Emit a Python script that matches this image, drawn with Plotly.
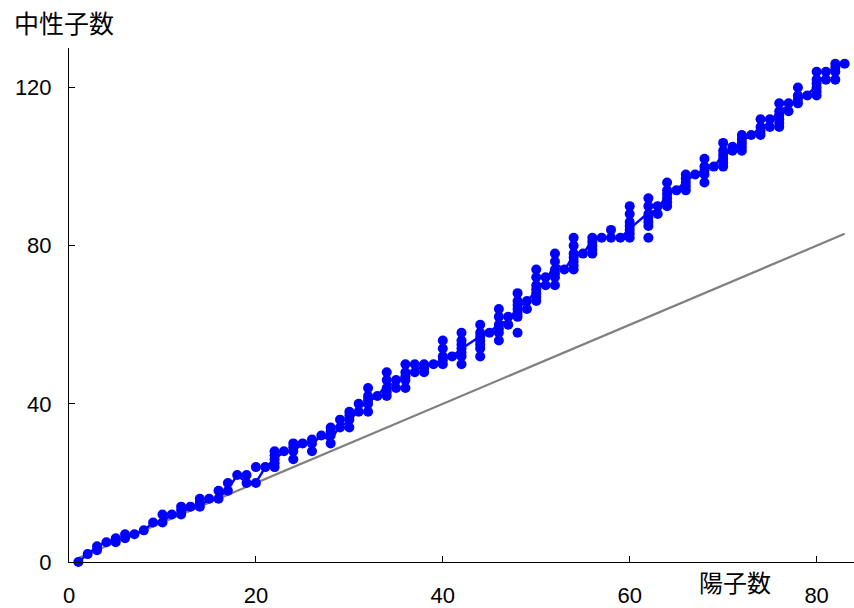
import plotly.graph_objects as go

# Naturally abundant stable isotopes (abundance roughly >= 1%): proton number Z and neutron number N
protons = [1, 2, 3,3, 4, 5,5, 6,6, 7, 8, 9, 10,10, 11, 12,12,12, 13, 14,14,14, 15,
           16,16, 17,17, 18, 19,19, 20,20, 21, 22,22,22,22,22, 23,
           24,24,24,24, 25, 26,26,26, 27, 28,28,28,28, 29,29, 30,30,30,30, 31,31,
           32,32,32,32,32, 33, 34,34,34,34,34, 35,35, 36,36,36,36,36, 37,37, 38,38,38, 39,
           40,40,40,40,40, 41, 42,42,42,42,42,42,42, 44,44,44,44,44,44,44, 45, 46,46,46,46,46,46, 47,47,
           48,48,48,48,48,48,48, 49,49, 50,50,50,50,50,50,50, 51,51,
           52,52,52,52,52,52, 53, 54,54,54,54,54,54,54, 55, 56,56,56,56,56, 57,
           58,58, 59, 60,60,60,60,60,60,60, 62,62,62,62,62,62,62, 63,63, 64,64,64,64,64,64, 65,
           66,66,66,66,66, 67, 68,68,68,68,68, 69, 70,70,70,70,70,70, 71,71,
           72,72,72,72,72, 73, 74,74,74,74, 75,75, 76,76,76,76,76,76, 77,77,
           78,78,78,78, 79, 80,80,80,80,80,80, 81,81, 82,82,82,82, 83]
neutrons = [0, 2, 3,4, 5, 5,6, 6,7, 7, 8, 10, 10,12, 12, 12,13,14, 14, 14,15,16, 16,
            16,18, 18,20, 22, 20,22, 20,24, 24, 24,25,26,27,28, 28,
            26,28,29,30, 30, 28,30,31, 32, 30,32,33,34, 34,36, 34,36,37,38, 38,40,
            38,40,41,42,44, 42, 42,43,44,46,48, 44,46, 44,46,47,48,50, 48,50, 48,49,50, 50,
            50,51,52,54,56, 52, 50,52,53,54,55,56,58, 52,54,55,56,57,58,60, 58, 56,58,59,60,62,64, 60,62,
            58,62,63,64,65,66,68, 64,66, 66,67,68,69,70,72,74, 70,72,
            70,72,73,74,76,78, 74, 74,75,76,77,78,80,82, 78, 78,79,80,81,82, 82,
            82,84, 82, 82,83,84,85,86,88,90, 82,85,86,87,88,90,92, 88,90, 90,91,92,93,94,96, 94,
            94,95,96,97,98, 98, 96,98,99,100,102, 100, 100,101,102,103,104,106, 104,105,
            104,105,106,107,108, 108, 108,109,110,112, 110,112, 110,111,112,113,114,116, 114,116,
            116,117,118,120, 118, 118,119,120,121,122,124, 122,124, 122,124,125,126, 126]

# Mean neutron number per element (atomic weight minus Z)
line_z = [1,2,3,4,5,6,7,8,9,10,11,12,13,14,15,16,17,18,19,20,21,22,23,24,25,26,27,28,29,30,
          31,32,33,34,35,36,37,38,39,40,41,42,44,45,46,47,48,49,50,51,52,53,54,55,56,57,58,59,60,
          62,63,64,65,66,67,68,69,70,71,72,73,74,75,76,77,78,79,80,81,82,83]
line_n = [0.01,2.0,3.94,5.01,5.81,6.01,7.01,8.0,10.0,10.18,11.99,12.31,13.98,14.09,15.97,16.06,18.45,
          21.95,20.1,20.08,23.96,25.87,27.94,28.0,29.94,29.85,31.93,30.69,34.55,35.38,38.72,40.63,
          41.92,44.97,44.9,47.8,48.47,49.62,49.91,51.22,51.91,53.95,57.07,57.91,60.42,60.87,64.41,
          65.82,68.71,70.76,75.6,73.9,77.29,77.91,81.33,81.91,82.12,81.91,84.24,88.36,88.96,93.25,
          93.93,96.5,97.93,99.26,99.93,103.05,103.97,106.49,107.95,109.84,111.21,114.23,115.22,
          117.08,117.97,120.59,123.38,125.2,125.98]

# Reference line N = Z
ref_z = [1, 83]
ref_n = [1, 83]

x_ticks = [0, 20, 40, 60, 80]
y_ticks = [0, 40, 80, 120]

fig = go.Figure()
fig.add_trace(go.Scatter(x=ref_z, y=ref_n, mode="lines",
                         line=dict(color="#808080", width=2.2), cliponaxis=False, hoverinfo="skip"))
fig.add_trace(go.Scatter(x=line_z, y=line_n, mode="lines",
                         line=dict(color="#0000ff", width=2.4), cliponaxis=False))
fig.add_trace(go.Scatter(x=protons, y=neutrons, mode="markers",
                         marker=dict(color="#0000ff", size=10), cliponaxis=False))

font_family = "Liberation Sans, Arial, Noto Sans CJK JP, sans-serif"
fig.update_layout(
    width=854, height=608,
    margin=dict(l=69, r=0, t=48, b=44),
    paper_bgcolor="white", plot_bgcolor="white",
    showlegend=False,
    font=dict(family=font_family, size=22, color="black"),
    xaxis=dict(range=[0, 84], tickvals=x_ticks, ticktext=[str(v) for v in x_ticks],
               showgrid=False, zeroline=False, showline=True, linecolor="black", linewidth=1,
               ticks="inside", ticklen=6, tickcolor="black", ticklabelstandoff=14),
    yaxis=dict(range=[0, 130], tickvals=y_ticks, ticktext=[str(v) for v in y_ticks],
               showgrid=False, zeroline=False, showline=True, linecolor="black", linewidth=1,
               ticks="inside", ticklen=6, tickcolor="black", ticklabelstandoff=12),
    annotations=[
        dict(text="中性子数", xref="paper", yref="paper", x=-57/785, y=1 + 26/516,
             xanchor="left", yanchor="middle", showarrow=False,
             font=dict(family="Noto Sans CJK JP, sans-serif", size=25)),
        dict(text="陽子数", xref="paper", yref="paper", x=(697-69)/785, y=-20/516,
             xanchor="left", yanchor="middle", showarrow=False,
             font=dict(family="Noto Sans CJK JP, sans-serif", size=24)),
    ],
)
fig.write_html("out.html", config={"displayModeBar": False},
               post_script="document.body.style.margin='0';document.body.style.padding='0';")
